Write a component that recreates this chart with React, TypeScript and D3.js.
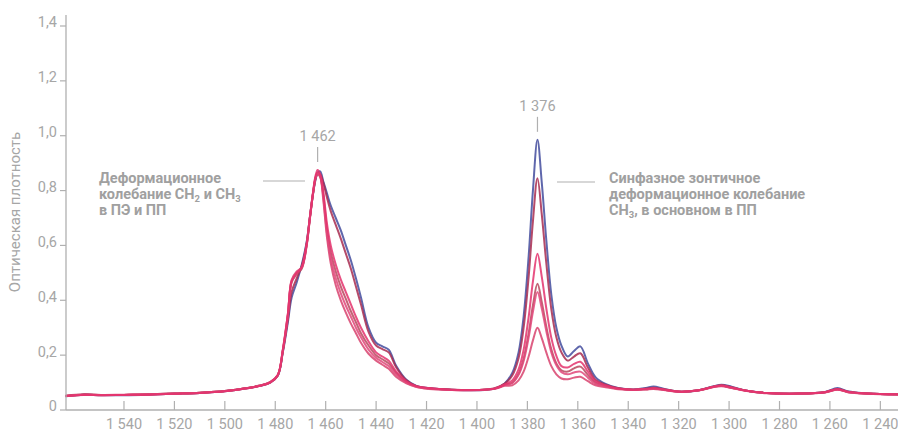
import React from "react";
import * as d3 from "d3";

// Wavenumbers (cm⁻¹), shared by all spectra
const wavenumbers = [
  1563, 1556, 1549, 1540, 1530, 1520, 1510, 1500, 1492, 1486, 1482, 1479,
  1477, 1475, 1473.5, 1471.5, 1469.5, 1467.6, 1466.3, 1465, 1464, 1463.2, 1462.2,
  1461, 1459.5, 1458, 1456, 1454, 1452, 1450, 1448, 1446, 1443, 1440, 1437.5, 1435, 1432, 1428, 1424, 1419, 1410,
  1400, 1393, 1389, 1386, 1383.5, 1381.5, 1379.5, 1377.8, 1376, 1374.3, 1372.5, 1370.5, 1368.5, 1366.5, 1364, 1361.5, 1359, 1356, 1353,
  1349, 1344, 1338, 1333, 1330, 1326, 1320, 1312, 1306, 1303, 1299, 1293, 1285, 1272, 1262, 1257, 1253, 1245, 1233,
];

const seriesA = [
  0.050, 0.056, 0.054, 0.054, 0.056, 0.059, 0.062, 0.068, 0.078, 0.088, 0.100, 0.125,
  0.21, 0.32, 0.41, 0.465, 0.53, 0.61, 0.70, 0.79, 0.84, 0.865, 0.87,
  0.835, 0.79, 0.745, 0.70, 0.655, 0.60, 0.545, 0.48, 0.41, 0.30, 0.245, 0.232, 0.22, 0.16, 0.11, 0.088, 0.08, 0.074,
  0.072, 0.078, 0.097, 0.135, 0.21, 0.34, 0.56, 0.80, 0.985, 0.83, 0.62, 0.42, 0.30, 0.235, 0.195, 0.215, 0.232, 0.17, 0.12,
  0.095, 0.08, 0.075, 0.08, 0.086, 0.078, 0.067, 0.072, 0.087, 0.092, 0.085, 0.07, 0.062, 0.06, 0.066, 0.08, 0.068, 0.06, 0.057,
];
const seriesB = [
  0.052, 0.057, 0.055, 0.055, 0.057, 0.060, 0.063, 0.069, 0.079, 0.089, 0.102, 0.128,
  0.215, 0.33, 0.43, 0.48, 0.525, 0.605, 0.70, 0.79, 0.845, 0.865, 0.86,
  0.83, 0.775, 0.725, 0.675, 0.625, 0.57, 0.515, 0.45, 0.385, 0.285, 0.235, 0.222, 0.21, 0.155, 0.108, 0.087, 0.079, 0.074,
  0.073, 0.079, 0.096, 0.126, 0.189, 0.299, 0.485, 0.688, 0.845, 0.714, 0.536, 0.367, 0.265, 0.21, 0.18, 0.195, 0.207, 0.155, 0.11,
  0.092, 0.079, 0.074, 0.078, 0.081, 0.076, 0.067, 0.072, 0.086, 0.09, 0.083, 0.07, 0.062, 0.06, 0.065, 0.077, 0.067, 0.06, 0.057,
];
const seriesC = [
  0.051, 0.055, 0.054, 0.055, 0.056, 0.059, 0.062, 0.068, 0.078, 0.088, 0.101, 0.127,
  0.22, 0.35, 0.47, 0.50, 0.52, 0.60, 0.70, 0.795, 0.855, 0.875, 0.86,
  0.80, 0.68, 0.60, 0.53, 0.475, 0.43, 0.385, 0.34, 0.30, 0.25, 0.21, 0.195, 0.18, 0.14, 0.105, 0.087, 0.08, 0.074,
  0.073, 0.078, 0.093, 0.108, 0.148, 0.219, 0.339, 0.469, 0.57, 0.486, 0.371, 0.263, 0.197, 0.16, 0.155, 0.168, 0.176, 0.14, 0.105,
  0.09, 0.078, 0.074, 0.077, 0.079, 0.075, 0.067, 0.072, 0.085, 0.089, 0.082, 0.07, 0.062, 0.06, 0.065, 0.076, 0.067, 0.06, 0.057,
];
const seriesD = [
  0.051, 0.056, 0.055, 0.055, 0.057, 0.060, 0.063, 0.069, 0.079, 0.089, 0.101, 0.126,
  0.215, 0.345, 0.465, 0.495, 0.515, 0.595, 0.695, 0.79, 0.845, 0.86, 0.85,
  0.79, 0.66, 0.575, 0.505, 0.45, 0.405, 0.36, 0.32, 0.28, 0.235, 0.20, 0.185, 0.17, 0.135, 0.102, 0.086, 0.079, 0.074,
  0.073, 0.078, 0.092, 0.10, 0.132, 0.187, 0.28, 0.382, 0.46, 0.394, 0.305, 0.221, 0.17, 0.145, 0.14, 0.152, 0.158, 0.128, 0.10,
  0.088, 0.078, 0.074, 0.076, 0.078, 0.074, 0.067, 0.072, 0.085, 0.088, 0.081, 0.07, 0.062, 0.06, 0.065, 0.075, 0.066, 0.06, 0.057,
];
const seriesE = [
  0.052, 0.056, 0.055, 0.056, 0.057, 0.060, 0.063, 0.069, 0.079, 0.089, 0.102, 0.128,
  0.22, 0.35, 0.47, 0.50, 0.52, 0.60, 0.70, 0.795, 0.85, 0.865, 0.855,
  0.78, 0.645, 0.555, 0.48, 0.425, 0.38, 0.34, 0.30, 0.265, 0.22, 0.19, 0.175, 0.16, 0.128, 0.10, 0.085, 0.078, 0.073,
  0.073, 0.078, 0.091, 0.098, 0.128, 0.178, 0.264, 0.358, 0.43, 0.37, 0.288, 0.21, 0.163, 0.138, 0.13, 0.137, 0.14, 0.118, 0.095,
  0.086, 0.077, 0.074, 0.076, 0.078, 0.074, 0.067, 0.072, 0.085, 0.088, 0.081, 0.07, 0.062, 0.06, 0.065, 0.075, 0.066, 0.06, 0.057,
];
const seriesF = [
  0.051, 0.056, 0.054, 0.055, 0.056, 0.059, 0.062, 0.068, 0.078, 0.088, 0.100, 0.126,
  0.215, 0.345, 0.475, 0.505, 0.52, 0.60, 0.695, 0.79, 0.845, 0.86, 0.85,
  0.77, 0.63, 0.535, 0.455, 0.40, 0.355, 0.315, 0.28, 0.245, 0.205, 0.18, 0.165, 0.15, 0.12, 0.097, 0.084, 0.077, 0.073,
  0.072, 0.077, 0.088, 0.09, 0.108, 0.14, 0.195, 0.254, 0.30, 0.262, 0.21, 0.16, 0.13, 0.115, 0.112, 0.118, 0.121, 0.105, 0.09,
  0.083, 0.076, 0.073, 0.075, 0.077, 0.073, 0.066, 0.071, 0.084, 0.087, 0.08, 0.069, 0.061, 0.06, 0.064, 0.074, 0.065, 0.059, 0.056,
];

const seriesList = [seriesA, seriesB, seriesD, seriesF, seriesE, seriesC];
const seriesColors = ["#434c9e", "#a82c50", "#b9485e", "#d8436f", "#e0487a", "#e4336d"];

const xTicks = [1540, 1520, 1500, 1480, 1460, 1440, 1420, 1400, 1380, 1360, 1340, 1320, 1300, 1280, 1260, 1240];
const yTicks = [0, 0.2, 0.4, 0.6, 0.8, 1.0, 1.2, 1.4];
const yTitle = "Оптическая плотность";
const peakLabels = ["1 462", "1 376"];
const peakPositions = [1463.2, 1376];
const peakHeights = [0.875, 0.985];

const W = 898;
const H = 433;
const FONT = "Roboto, 'Noto Sans', sans-serif";
const GREY = "#a6a6a6";
const NOTE = "#a0a0a0";
const AXIS = "#b0b0b0";

const fmtX = (v: number) => {
  const s = String(v);
  return s.slice(0, 1) + " " + s.slice(1);
};
const fmtY = (v: number) => (v === 0 ? "0" : v.toFixed(1).replace(".", ","));

export default function App() {
  const x = d3.scaleLinear().domain([1563, 1233]).range([66, 898]);
  const y = d3.scaleLinear().domain([0, 1.4]).range([410, 26]);
  const line = d3
    .line<number>()
    .x((_, i) => x(wavenumbers[i]))
    .y((d) => y(d))
    .curve(d3.curveCatmullRom.alpha(0.5));

  return (
    <svg
      width={W}
      height={H}
      style={{ position: "absolute", left: 0, top: 0, background: "#fff" }}
      fontFamily={FONT}
    >
      {/* spectra */}
      <g fill="none" strokeLinejoin="round" strokeLinecap="round">
        {seriesList.map((s, i) => (
          <path key={i} d={line(s) || ""} stroke={seriesColors[i]} strokeWidth={2} strokeOpacity={0.85} />
        ))}
      </g>

      {/* axes */}
      <line x1={66} x2={66} y1={15} y2={410} stroke={AXIS} strokeWidth={1.3} />
      <line x1={66} x2={898} y1={410} y2={410} stroke={AXIS} strokeWidth={1.3} />
      {yTicks.map((t) => (
        <g key={t}>
          <line x1={60} x2={66} y1={y(t)} y2={y(t)} stroke={AXIS} strokeWidth={1.2} />
          <text x={57} y={y(t)} dy="0.1em" textAnchor="end" fontSize={14.5} fill={GREY}>
            {fmtY(t)}
          </text>
        </g>
      ))}
      {xTicks.map((t) => (
        <g key={t}>
          <line x1={x(t)} x2={x(t)} y1={401} y2={410} stroke={AXIS} strokeWidth={1.2} />
          <text x={x(t)} y={429} textAnchor="middle" fontSize={14.5} fill={GREY}>
            {fmtX(t)}
          </text>
        </g>
      ))}
      <text
        transform="translate(20,212) rotate(-90)"
        textAnchor="middle"
        fontSize={15}
        fill={GREY}
      >
        {yTitle}
      </text>

      {/* peak markers */}
      {peakLabels.map((lab, i) => {
        const px = x(peakPositions[i]);
        const bottom = y(peakHeights[i]) - 8;
        const top = bottom - 15;
        return (
          <g key={lab}>
            <line x1={px} x2={px} y1={top} y2={bottom} stroke={AXIS} strokeWidth={1.2} />
            <text x={px} y={top - 6} textAnchor="middle" fontSize={14.5} fill={GREY}>
              {lab}
            </text>
          </g>
        );
      })}

      {/* left annotation */}
      <line x1={263} x2={305} y1={181} y2={181} stroke={AXIS} strokeWidth={1.2} />
      <g fontSize={14.5} fontWeight={700} fill={NOTE}>
        <text x={99} y={183}>Деформационное</text>
        <text x={99} y={199}>
          колебание СН<tspan fontSize={9.5} dy={3}>2</tspan>
          <tspan dy={-3}> и СН</tspan>
          <tspan fontSize={9.5} dy={3}>3</tspan>
        </text>
        <text x={99} y={215}>в ПЭ и ПП</text>
      </g>

      {/* right annotation */}
      <line x1={557} x2={595} y1={182} y2={182} stroke={AXIS} strokeWidth={1.2} />
      <g fontSize={14.5} fontWeight={700} fill={NOTE}>
        <text x={609} y={183}>Синфазное зонтичное</text>
        <text x={609} y={199}>деформационное колебание</text>
        <text x={609} y={215}>
          СН<tspan fontSize={9.5} dy={3}>3</tspan>
          <tspan dy={-3}>, в основном в ПП</tspan>
        </text>
      </g>
    </svg>
  );
}
